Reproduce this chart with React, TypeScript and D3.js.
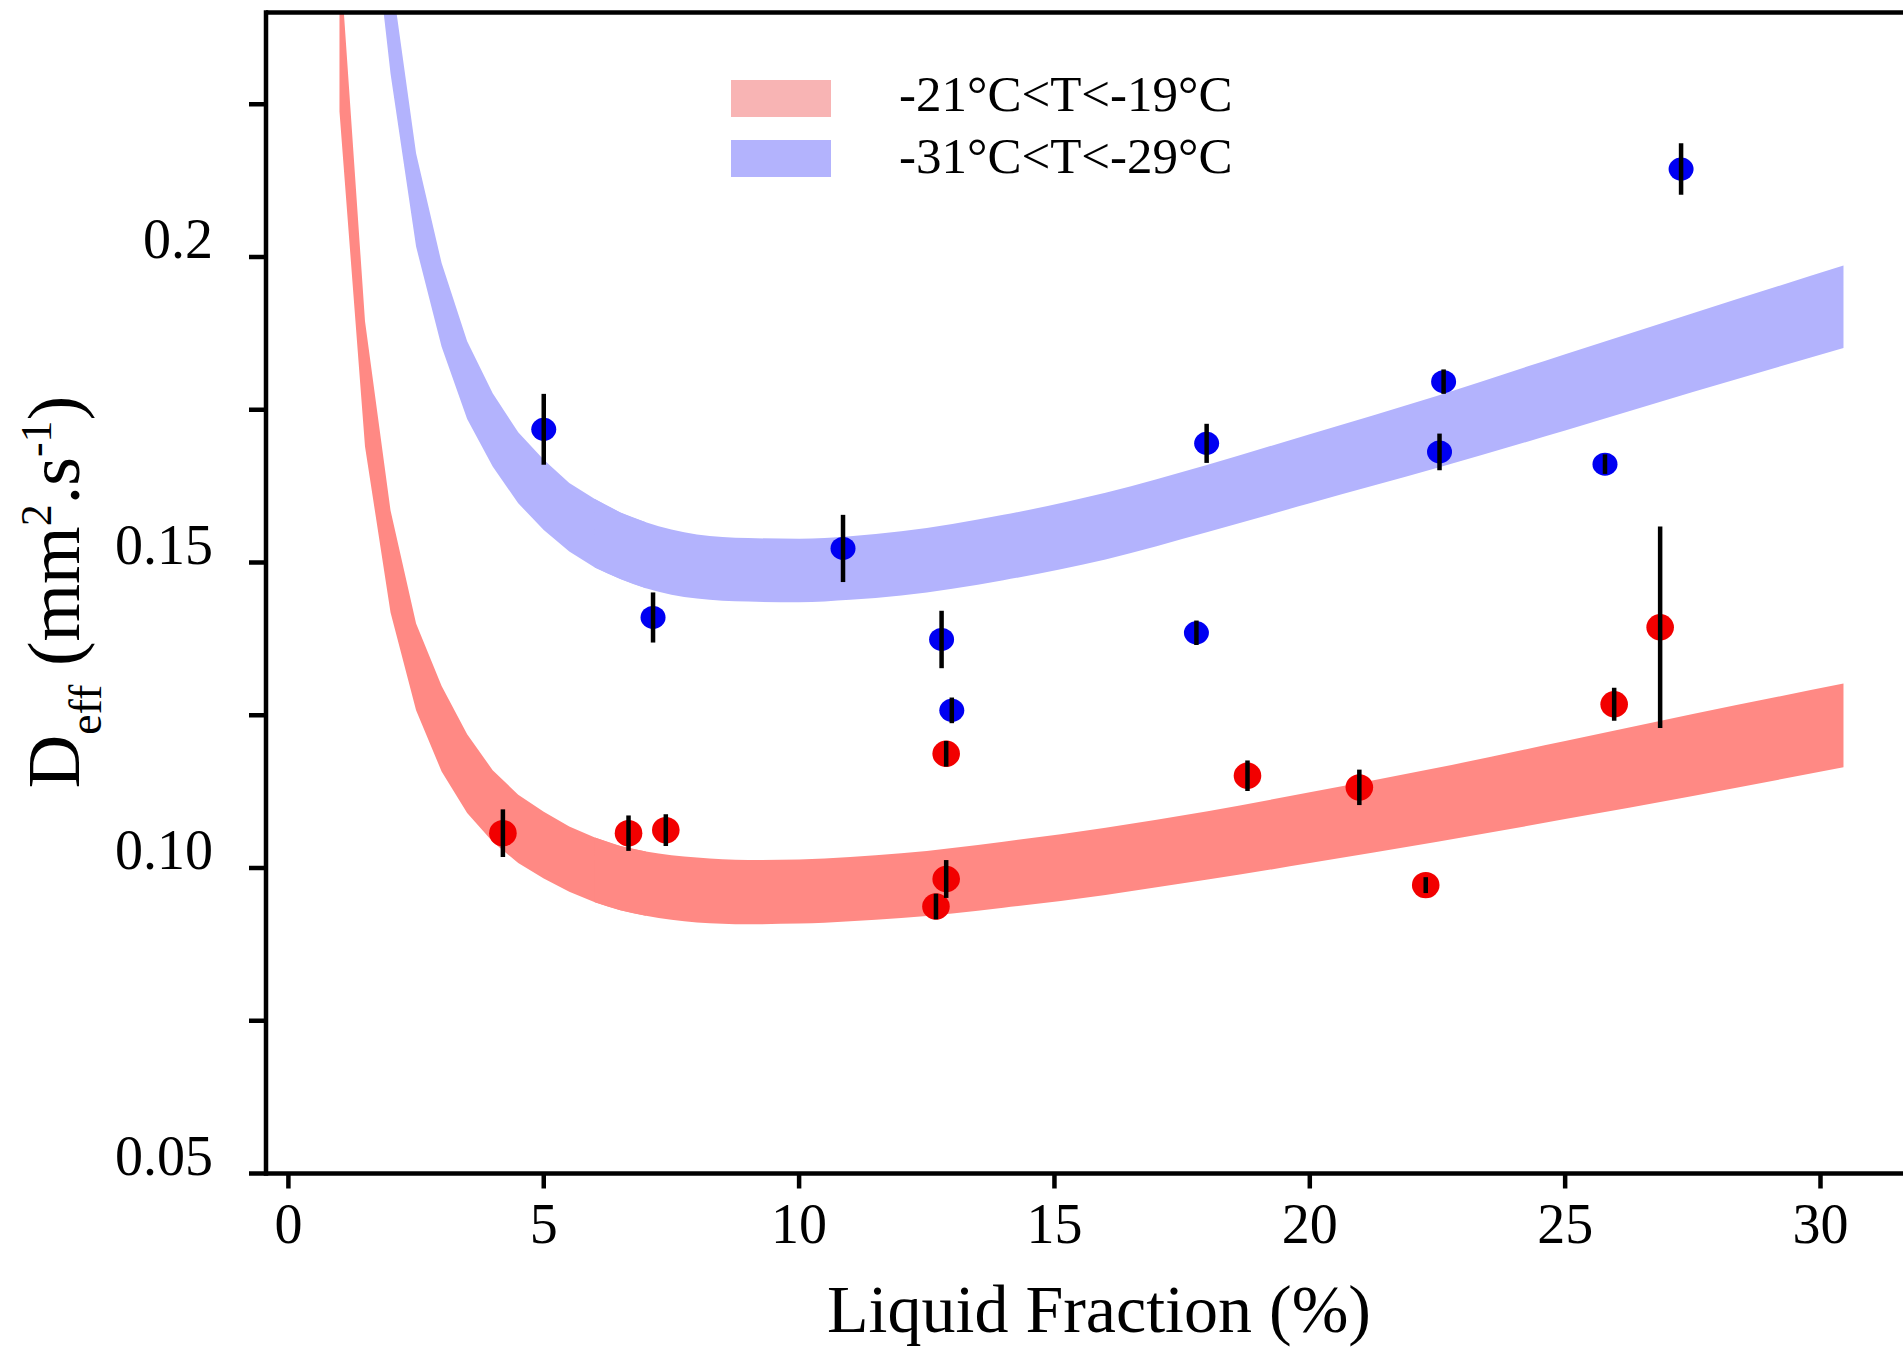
import React from "react";
import * as d3 from "d3";

// ---- Data ----
const xTicks = [0, 5, 10, 15, 20, 25, 30];
const xTickLabels = ["0", "5", "10", "15", "20", "25", "30"];
const yMajorTicks = [0.05, 0.1, 0.15, 0.2];
const yMajorLabels = ["0.05", "0.10", "0.15", "0.2"];
const yMinorTicks = [0.075, 0.125, 0.175, 0.225];

const legendLabels = ["-21°C<T<-19°C", "-31°C<T<-29°C"];

// Model bands
const redBandX = [1.0, 1.5, 2.0, 2.5, 3.0, 3.5, 4.0, 4.5, 5.0, 5.5, 6.0, 6.5, 7.0, 8.0, 9.0, 10, 11, 12, 14, 16, 18, 20, 22.5, 25, 27.5, 30.45];
const redBandLow = [0.2238, 0.169, 0.1418, 0.1258, 0.1158, 0.109, 0.1043, 0.1008, 0.0983, 0.0961, 0.0944, 0.0931, 0.0922, 0.0911, 0.0908, 0.0909, 0.0913, 0.0918, 0.0935, 0.0956, 0.0981, 0.1008, 0.1043, 0.108, 0.1118, 0.1165];
const redBandHigh = [0.2505, 0.1895, 0.1585, 0.14, 0.1298, 0.1219, 0.116, 0.112, 0.1092, 0.1068, 0.105, 0.1036, 0.1027, 0.1017, 0.1013, 0.1014, 0.1018, 0.1024, 0.1043, 0.1066, 0.1093, 0.1124, 0.1164, 0.1208, 0.1252, 0.1302];

const blueBandX = [1.5, 2.0, 2.5, 3.0, 3.5, 4.0, 4.5, 5.0, 5.5, 6.0, 6.5, 7.0, 8.0, 9.0, 10, 11, 12, 14, 16, 18, 20, 22.5, 25, 27.5, 30.45];
const blueBandLow = [0.267, 0.23, 0.2017, 0.1853, 0.1735, 0.1657, 0.1597, 0.1553, 0.1518, 0.1492, 0.1473, 0.1458, 0.1441, 0.1436, 0.1435, 0.1439, 0.1446, 0.1471, 0.1505, 0.155, 0.1597, 0.1655, 0.1716, 0.1779, 0.1851];
const blueBandHigh = [0.287, 0.247, 0.217, 0.199, 0.1862, 0.1777, 0.1713, 0.1668, 0.163, 0.1604, 0.1582, 0.1566, 0.1546, 0.154, 0.1539, 0.1543, 0.1551, 0.1578, 0.1614, 0.166, 0.171, 0.1773, 0.1841, 0.1908, 0.1986];

// Measurements
const blueX = [5.0, 7.14, 10.86, 12.79, 12.99, 17.78, 17.98, 22.54, 22.62, 25.78, 27.27];
const blueY = [0.1718, 0.141, 0.1523, 0.1374, 0.1258, 0.1385, 0.1695, 0.1681, 0.1796, 0.1661, 0.2144];
const blueErr = [0.0058, 0.0041, 0.0055, 0.0047, 0.0021, 0.002, 0.0032, 0.003, 0.002, 0.0016, 0.0042];

const redX = [4.2, 6.66, 7.39, 12.88, 12.88, 12.68, 18.78, 20.97, 22.27, 25.96, 26.86];
const redY = [0.1057, 0.1057, 0.1062, 0.1187, 0.0982, 0.0937, 0.1151, 0.1132, 0.0972, 0.1268, 0.1394];
const redErr = [0.0039, 0.0029, 0.0026, 0.0021, 0.0031, 0.0021, 0.0025, 0.0029, 0.0013, 0.0027, 0.0165];

// ---- Layout ----
const W = 1903;
const H = 1351;
const plotLeft = 266;
const plotTop = 12.5;
const plotBottom = 1173.5;
const plotRight = 1903;
const FONT = "'Liberation Serif', 'Times New Roman', serif";
const SPLIT_X = 7; // sampled polyline left of this, smooth curve right of it

const COLORS = {
  redBand: "#FF8984",
  blueBand: "#B3B3FD",
  redLegend: "#F8B4B4",
  blueLegend: "#B3B3FD",
  redPt: "#F20000",
  bluePt: "#0000F2",
};

export default function App() {
  const x = d3.scaleLinear().domain([0, 30]).range([288.4, 1820.5]);
  const y = d3.scaleLinear().domain([0.05, 0.2]).range([1173.5, 257]);

  const makeArea = (
    xs: number[],
    lo: number[],
    hi: number[],
    keep: (v: number) => boolean,
    curve: d3.CurveFactory
  ) => {
    const idx = xs.map((_, i) => i).filter((i) => keep(xs[i]));
    return d3
      .area<number>()
      .x((i) => x(xs[i]))
      .y0((i) => y(lo[i]))
      .y1((i) => y(hi[i]))
      .curve(curve)(idx) as string;
  };

  const bandPaths = (xs: number[], lo: number[], hi: number[]) => [
    makeArea(xs, lo, hi, (v) => v <= SPLIT_X, d3.curveLinear),
    makeArea(xs, lo, hi, (v) => v >= SPLIT_X - 1, d3.curveMonotoneX),
  ];

  const redPaths = bandPaths(redBandX, redBandLow, redBandHigh);
  const bluePaths = bandPaths(blueBandX, blueBandLow, blueBandHigh);

  const sw = 4.5;

  return (
    <svg
      width={W}
      height={H}
      viewBox={`0 0 ${W} ${H}`}
      style={{ position: "absolute", left: 0, top: 0, display: "block", background: "#fff" }}
      fontFamily={FONT}
    >
      <defs>
        <clipPath id="plotClip">
          <rect x={plotLeft} y={plotTop} width={plotRight - plotLeft} height={plotBottom - plotTop} />
        </clipPath>
      </defs>
      <rect x={0} y={0} width={W} height={H} fill="#fff" />

      <g clipPath="url(#plotClip)">
        {redPaths.map((d, i) => (
          <path key={"rb" + i} d={d} fill={COLORS.redBand} stroke="none" />
        ))}
        {bluePaths.map((d, i) => (
          <path key={"bb" + i} d={d} fill={COLORS.blueBand} stroke="none" />
        ))}

        {blueX.map((bx, i) => (
          <ellipse key={"bp" + i} cx={x(bx)} cy={y(blueY[i])} rx={12.5} ry={11.5} fill={COLORS.bluePt} />
        ))}
        {redX.map((rx, i) => (
          <ellipse key={"rp" + i} cx={x(rx)} cy={y(redY[i])} rx={13.8} ry={13.2} fill={COLORS.redPt} />
        ))}
        {blueX.map((bx, i) => (
          <line
            key={"be" + i}
            x1={x(bx)}
            x2={x(bx)}
            y1={y(blueY[i] - blueErr[i])}
            y2={y(blueY[i] + blueErr[i])}
            stroke="#000"
            strokeWidth={sw}
          />
        ))}
        {redX.map((rx, i) => (
          <line
            key={"re" + i}
            x1={x(rx)}
            x2={x(rx)}
            y1={y(redY[i] - redErr[i])}
            y2={y(redY[i] + redErr[i])}
            stroke="#000"
            strokeWidth={sw}
          />
        ))}
      </g>

      {/* Legend */}
      <rect x={731} y={80} width={100} height={37} fill={COLORS.redLegend} />
      <rect x={731} y={140} width={100} height={37} fill={COLORS.blueLegend} />
      <text x={899} y={110.5} fontSize={51} fill="#000">
        {legendLabels[0]}
      </text>
      <text x={899} y={172.5} fontSize={51} fill="#000">
        {legendLabels[1]}
      </text>

      {/* Spines */}
      <line x1={plotLeft} x2={plotLeft} y1={plotTop - 2.25} y2={plotBottom + 2.25} stroke="#000" strokeWidth={sw} />
      <line x1={plotLeft} x2={plotRight} y1={plotTop} y2={plotTop} stroke="#000" strokeWidth={sw} />
      <line x1={plotLeft} x2={plotRight} y1={plotBottom} y2={plotBottom} stroke="#000" strokeWidth={sw} />

      {/* Y ticks */}
      {yMajorTicks.map((t, i) => (
        <g key={"ym" + i}>
          <line x1={249} x2={plotLeft} y1={y(t)} y2={y(t)} stroke="#000" strokeWidth={sw} />
          <text x={213} y={y(t) + 1} fontSize={56} textAnchor="end" fill="#000">
            {yMajorLabels[i]}
          </text>
        </g>
      ))}
      {yMinorTicks.map((t, i) => (
        <line key={"yn" + i} x1={249} x2={plotLeft} y1={y(t)} y2={y(t)} stroke="#000" strokeWidth={sw} />
      ))}

      {/* X ticks */}
      {xTicks.map((t, i) => (
        <g key={"xt" + i}>
          <line x1={x(t)} x2={x(t)} y1={plotBottom} y2={plotBottom + 15} stroke="#000" strokeWidth={sw} />
          <text x={x(t)} y={1243} fontSize={56} textAnchor="middle" fill="#000">
            {xTickLabels[i]}
          </text>
        </g>
      ))}

      {/* Axis labels */}
      <text x={1099} y={1332} fontSize={68} textAnchor="middle" fill="#000">
        Liquid Fraction (%)
      </text>
      <text transform="translate(79, 592) rotate(-90)" fontSize={74} textAnchor="middle" fill="#000">
        D
        <tspan fontSize={46} dy={22}>
          eff
        </tspan>
        <tspan dy={-22}>{" (mm"}</tspan>
        <tspan fontSize={44} dy={-28}>
          2
        </tspan>
        <tspan dy={28}>.s</tspan>
        <tspan fontSize={44} dy={-28}>
          -1
        </tspan>
        <tspan dy={28}>)</tspan>
      </text>
    </svg>
  );
}
